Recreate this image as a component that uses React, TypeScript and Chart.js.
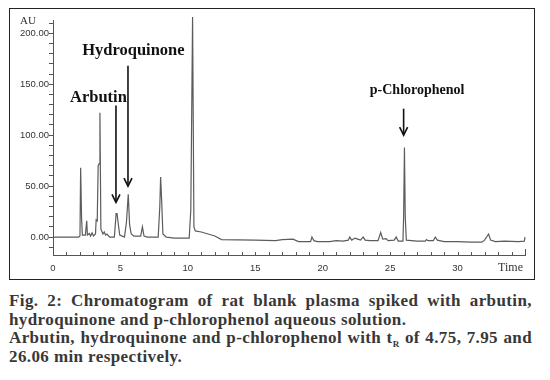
import React, { useEffect, useRef } from "react";
import { Chart, registerables } from "chart.js";
Chart.register(...registerables);

// retention time (min)
const times = [
  0, 1.9, 2.0, 2.05, 2.12, 2.18, 2.4, 2.5, 2.55, 2.7, 2.78, 2.9, 3.0, 3.15, 3.2, 3.28, 3.35, 3.42, 3.48, 3.55,
  3.7, 3.8, 3.9, 4.0, 4.2, 4.55, 4.68, 4.75, 4.82, 4.95, 5.3, 5.45, 5.58, 5.68, 5.8, 6.0, 6.5, 6.63, 6.75, 7.0,
  7.8, 7.92, 7.98, 8.06, 8.15, 8.4, 9.0, 9.5, 10.1, 10.22, 10.35, 10.45, 10.55, 11.0, 11.5, 12.0, 12.5, 15.0, 16.5, 17.0,
  17.8, 18.2, 19.1, 19.2, 19.35, 19.6, 20.5, 21.0, 21.5, 21.9, 22.0, 22.15, 22.4, 22.6, 22.8, 23.0, 23.15, 23.5, 24.1, 24.3,
  24.45, 24.7, 24.85, 25.3, 25.45, 25.6, 25.95, 26.0, 26.06, 26.12, 26.2, 27.0, 27.6, 27.7, 27.8, 28.2, 28.35, 28.5, 29.0, 30.0,
  31.0, 31.8, 32.0, 32.3, 32.45, 32.8, 33.5, 34.5, 34.95, 35.0,
];
// absorbance (AU)
const absorbance = [
  0, 0, 1, 68, 18, 2, 2, 16, 2, 3.5, 1, 4, 1, 3, 17, 16, 70, 72, 122, 8,
  3, 5, 2, 3, 0, 0, 23, 23, 15, 2, 0, 15, 42, 12, 3, 1, 1, 10, 1, 0,
  0, 30, 59, 35, 3, 0, -1, -1, -1, 27, 216, 10, 6, 5, 3, 1, -2.5, -3, -3.5, -2.5,
  -2, -4.5, -4.5, 0, -3.5, -4.5, -4.5, -3.5, -4, -3, 0, -3, -1, -2, -3, 0, -3, -3.5, -3.5, 4.5,
  -2, -1.5, -3.5, -3, 0, -4, -4, 20, 88, 20, -3, -4, -4, -2.5, -3.5, -3.5, 0, -3, -4.5, -4.5,
  -5, -5, -3, 3, -3, -4.5, -4, -4.5, -4, 0,
];

const xTickValues = [0, 5, 10, 15, 20, 25, 30];
const xTickLabels = ["0", "5", "10", "15", "20", "25", "30"];
const yTickValues = [0, 50, 100, 150, 200];
const yTickLabels = ["0.00", "50.00", "100.00", "150.00", "200.00"];

const peakNames = ["Arbutin", "Hydroquinone", "p-Chlorophenol"];
const peakNameTimes = [3.37, 5.96, 27.0];
const peakNameAU = [137, 183, 144];
const arrowTimes = [4.67, 5.56, 26.0];
const arrowTopAU = [129, 168, 126];
const arrowTipAU = [34, 50, 100];

const yMin = -17.6;
const yMax = 213;
const xMin = 0;
const xMax = 35;

const annotPlugin = {
  id: "annot",
  afterDraw(chart: any) {
    const ctx = chart.ctx;
    const xs = chart.scales.x;
    const ys = chart.scales.y;
    const area = chart.chartArea;
    ctx.save();
    // x ticks pointing up
    ctx.strokeStyle = "#555";
    ctx.lineWidth = 1;
    for (let t = xMin; t <= xMax; t++) {
      const px = Math.round(xs.getPixelForValue(t)) + 0.5;
      const len = t === xMax ? 6 : 3;
      ctx.beginPath();
      ctx.moveTo(px, area.bottom);
      ctx.lineTo(px, area.bottom - len);
      ctx.stroke();
    }
    // axis titles
    ctx.fillStyle = "#333";
    ctx.font = "12px 'Liberation Serif'";
    ctx.textAlign = "right";
    ctx.textBaseline = "middle";
    ctx.fillText("Time", area.right - 2, area.bottom + 13);
    ctx.font = "11px 'Liberation Serif'";
    ctx.textAlign = "center";
    ctx.fillText("AU", 18, area.top + 1);
    // peak names
    ctx.fillStyle = "#111";
    const sizes = [16.5, 16.5, 14];
    peakNames.forEach((name, i) => {
      ctx.font = `bold ${sizes[i]}px 'Liberation Serif'`;
      ctx.textAlign = "center";
      ctx.textBaseline = "middle";
      ctx.fillText(name, xs.getPixelForValue(peakNameTimes[i]), ys.getPixelForValue(peakNameAU[i]));
    });
    // arrows
    ctx.strokeStyle = "#111";
    ctx.lineWidth = 1.6;
    arrowTimes.forEach((t, i) => {
      const px = xs.getPixelForValue(t);
      const top = ys.getPixelForValue(arrowTopAU[i]);
      const tip = ys.getPixelForValue(arrowTipAU[i]);
      ctx.beginPath();
      ctx.moveTo(px, top);
      ctx.lineTo(px, tip - 1);
      ctx.stroke();
      ctx.beginPath();
      ctx.moveTo(px - 4, tip - 8);
      ctx.lineTo(px, tip);
      ctx.lineTo(px + 4, tip - 8);
      ctx.stroke();
    });
    ctx.restore();
  },
};

export default function App() {
  const ref = useRef<HTMLCanvasElement | null>(null);
  useEffect(() => {
    if (!ref.current) return;
    const data = times.map((t, i) => ({ x: t, y: absorbance[i] }));
    const chart = new Chart(ref.current, {
      type: "scatter",
      data: {
        datasets: [
          {
            data,
            showLine: true,
            pointRadius: 0,
            borderColor: "#5c5c5c",
            borderWidth: 1.2,
            tension: 0,
            clip: false as any,
          },
        ],
      },
      options: {
        responsive: false,
        animation: false,
        events: [],
        layout: { padding: { left: 0, right: 9, top: 11, bottom: 0 } },
        plugins: { legend: { display: false }, tooltip: { enabled: false } },
        scales: {
          x: {
            type: "linear",
            min: xMin,
            max: xMax,
            afterBuildTicks: (s: any) => {
              const arr = [];
              for (let t = xMin; t <= xMax; t++) arr.push({ value: t });
              s.ticks = arr;
            },
            afterFit: (s: any) => {
              s.height = 24;
            },
            grid: { display: true, drawOnChartArea: false, drawTicks: false },
            border: { display: true, color: "#555", width: 1 },
            ticks: {
              autoSkip: false,
              maxRotation: 0,
              padding: 8,
              color: "#333",
              font: { family: "'Liberation Sans'", size: 9.5 },
              callback: (v: any) => {
                const k = xTickValues.indexOf(Number(v));
                return k >= 0 ? xTickLabels[k] : "";
              },
            },
          },
          y: {
            type: "linear",
            min: yMin,
            max: yMax,
            afterBuildTicks: (s: any) => {
              const arr = [];
              for (let v = -10; v <= 210; v += 10) arr.push({ value: v });
              s.ticks = arr;
            },
            afterFit: (s: any) => {
              s.width = 43;
            },
            grid: { display: true, drawOnChartArea: false, drawTicks: true, tickLength: 4, color: "#555" },
            border: { display: true, color: "#555", width: 1 },
            ticks: {
              autoSkip: false,
              padding: 0,
              color: "#333",
              font: { family: "'Liberation Sans'", size: 9.5 },
              callback: (v: any) => {
                const k = yTickValues.indexOf(Number(v));
                return k >= 0 ? yTickLabels[k] : "";
              },
            },
          },
        },
      },
      plugins: [annotPlugin],
    });
    return () => chart.destroy();
  }, []);

  const capStyle: React.CSSProperties = {
    fontFamily: "'Liberation Serif', serif",
    fontWeight: "bold",
    fontSize: "17px",
    lineHeight: "18.5px",
    letterSpacing: "0.4px",
    color: "#383838",
    whiteSpace: "nowrap",
  };
  const just: React.CSSProperties = { ...capStyle, textAlign: "justify", textAlignLast: "justify" as any, whiteSpace: "normal" };

  return (
    <div style={{ width: 540 }}>
      <div style={{ marginLeft: 1, width: 524, height: 270, border: "1px solid #222" }}>
        <canvas ref={ref} width={524} height={270} style={{ display: "block" }} />
      </div>
      <div style={{ marginLeft: 1, marginTop: 12, width: 523 }}>
        <div style={just}>Fig. 2: Chromatogram of rat blank plasma spiked with arbutin,</div>
        <div style={capStyle}>hydroquinone and p-chlorophenol aqueous solution.</div>
        <div style={just}>
          Arbutin, hydroquinone and p-chlorophenol with t<sub style={{ fontSize: "9px", lineHeight: 0 }}>R</sub> of 4.75, 7.95 and
        </div>
        <div style={capStyle}>26.06 min respectively.</div>
      </div>
    </div>
  );
}
